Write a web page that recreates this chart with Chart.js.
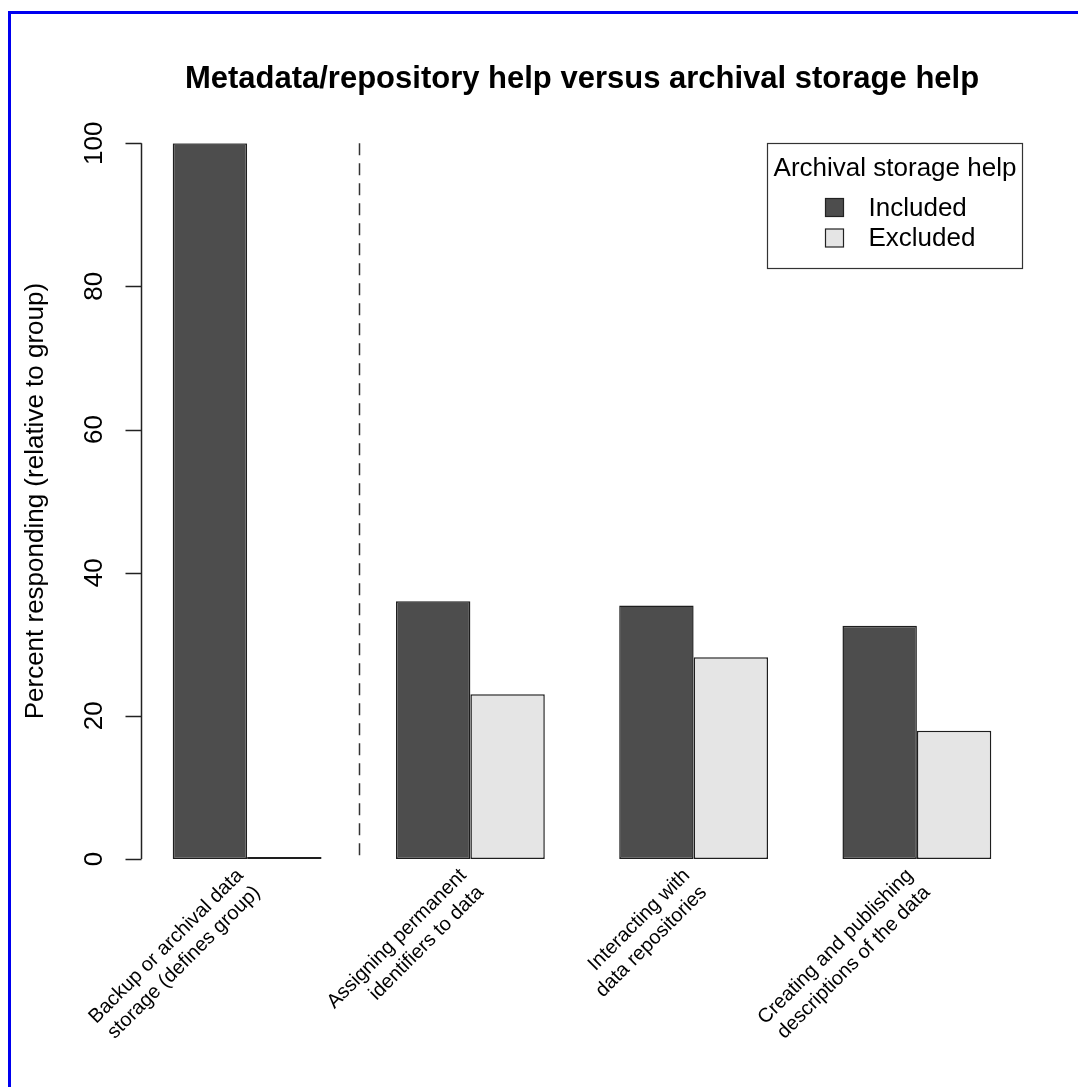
<!DOCTYPE html>
<html>
<head>
<meta charset="utf-8">
<title>Metadata/repository help versus archival storage help</title>
<script src="https://cdn.jsdelivr.net/npm/chart.js@4.4.1/dist/chart.umd.min.js"></script>
<style>
  html, body { margin: 0; padding: 0; background: #fff; overflow: hidden; }
  #wrap { position: relative; width: 1078px; height: 1087px; }
  #frame {
    position: absolute; left: 8px; top: 11px; width: 1200px; height: 1200px;
    border-left: 3px solid #0000f0; border-top: 3px solid #0000f0;
    pointer-events: none;
  }
</style>
</head>
<body>
<div id="wrap">
  <canvas id="chart" width="1078" height="1087"></canvas>
  <div id="frame"></div>
</div>
<script>
const categories = [
  ["Backup or archival data", "storage (defines group)"],
  ["Assigning permanent", "identifiers to data"],
  ["Interacting with", "data repositories"],
  ["Creating and publishing", "descriptions of the data"],
];
const included = [100, 36.0, 35.4, 32.6];
const excluded = [0, 23.0, 28.2, 17.9];
const seriesNames = ["Included", "Excluded"];
const yTicks = [0, 20, 40, 60, 80, 100];

const FONT = "'Liberation Sans', Arial, Helvetica, sans-serif";

// y axis (R style, detached), group separator and the boxed legend
const overlay = {
  id: "overlay",
  afterDatasetsDraw(chart) {
    const { ctx, chartArea, scales: { x, y } } = chart;
    const top = y.getPixelForValue(100);
    const bottom = y.getPixelForValue(0);
    ctx.save();

    // dashed line between the first group and the rest
    const sx = Math.round(x.getPixelForValue(0.5)) + 0.5;
    ctx.strokeStyle = "#333";
    ctx.lineWidth = 1.5;
    ctx.setLineDash([12, 8]);
    ctx.beginPath();
    ctx.moveTo(sx, top);
    ctx.lineTo(sx, bottom);
    ctx.stroke();
    ctx.setLineDash([]);

    // y axis
    const ax = Math.round(x.getPixelForValue(-0.475)) + 0.5;
    ctx.strokeStyle = "#222";
    ctx.lineWidth = 1.5;
    ctx.beginPath();
    ctx.moveTo(ax, top);
    ctx.lineTo(ax, bottom);
    yTicks.forEach(v => {
      const py = Math.round(y.getPixelForValue(v)) + 0.5;
      ctx.moveTo(ax - 16, py);
      ctx.lineTo(ax, py);
    });
    ctx.stroke();

    ctx.fillStyle = "#000";
    ctx.font = "26px " + FONT;
    ctx.textAlign = "center";
    ctx.textBaseline = "middle";
    yTicks.forEach(v => {
      ctx.save();
      ctx.translate(ax - 47, y.getPixelForValue(v));
      ctx.rotate(-Math.PI / 2);
      ctx.fillText(String(v), 0, 0);
      ctx.restore();
    });
    ctx.save();
    ctx.translate(ax - 106, (top + bottom) / 2);
    ctx.rotate(-Math.PI / 2);
    ctx.fillText("Percent responding (relative to group)", 0, 0);
    ctx.restore();

    // legend
    const bw = 255, bh = 125;
    const bx = Math.round(chartArea.right - 7 - bw) + 0.5;
    const by = Math.round(chartArea.top) + 0.5;
    ctx.fillStyle = "#fff";
    ctx.fillRect(bx, by, bw, bh);
    ctx.strokeStyle = "#333";
    ctx.lineWidth = 1.2;
    ctx.strokeRect(bx, by, bw, bh);
    ctx.fillStyle = "#000";
    ctx.textAlign = "center";
    ctx.fillText("Archival storage help", bx + bw / 2, by + 25);
    chart.data.datasets.forEach((ds, i) => {
      const cy = by + 64 + i * 30.5;
      ctx.fillStyle = ds.backgroundColor;
      ctx.fillRect(bx + 58, cy - 9, 18, 18);
      ctx.strokeStyle = "#222";
      ctx.lineWidth = 1.2;
      ctx.strokeRect(bx + 58, cy - 9, 18, 18);
      ctx.fillStyle = "#000";
      ctx.textAlign = "left";
      ctx.fillText(ds.label, bx + 101, cy + 1);
    });
    ctx.restore();
  },
};

new Chart(document.getElementById("chart"), {
  type: "bar",
  data: {
    labels: categories,
    datasets: [
      {
        label: seriesNames[0],
        data: included,
        backgroundColor: "#4d4d4d",
        borderColor: "#1e1e1e",
        borderWidth: 1.5,
        borderSkipped: false,
        minBarLength: 2,
      },
      {
        label: seriesNames[1],
        data: excluded,
        backgroundColor: "#e5e5e5",
        borderColor: "#1e1e1e",
        borderWidth: 1.5,
        borderSkipped: false,
        minBarLength: 2,
      },
    ],
  },
  options: {
    responsive: false,
    animation: false,
    devicePixelRatio: 1,
    categoryPercentage: 2 / 3,
    barPercentage: 1,
    layout: { padding: { left: 135.5, right: 49.5, top: 21, bottom: 0 } },
    plugins: {
      legend: { display: false },
      tooltip: { enabled: false },
      title: {
        display: true,
        fullSize: false,
        text: "Metadata/repository help versus archival storage help",
        color: "#000",
        font: { family: FONT, size: 31, weight: "bold", lineHeight: 1.2 },
        padding: { top: 40, bottom: 45 },
      },
    },
    scales: {
      x: {
        offset: true,
        grid: { display: false, drawTicks: false },
        border: { display: false },
        ticks: {
          autoSkip: false,
          minRotation: 45,
          maxRotation: 45,
          padding: 5,
          labelOffset: -7,
          color: "#000",
          font: { family: FONT, size: 20, lineHeight: 1.2 },
        },
        afterFit(scale) { scale.height = 228; },
      },
      y: {
        display: false,
        min: 0,
        max: 100,
      },
    },
  },
  plugins: [overlay],
});
</script>
</body>
</html>
